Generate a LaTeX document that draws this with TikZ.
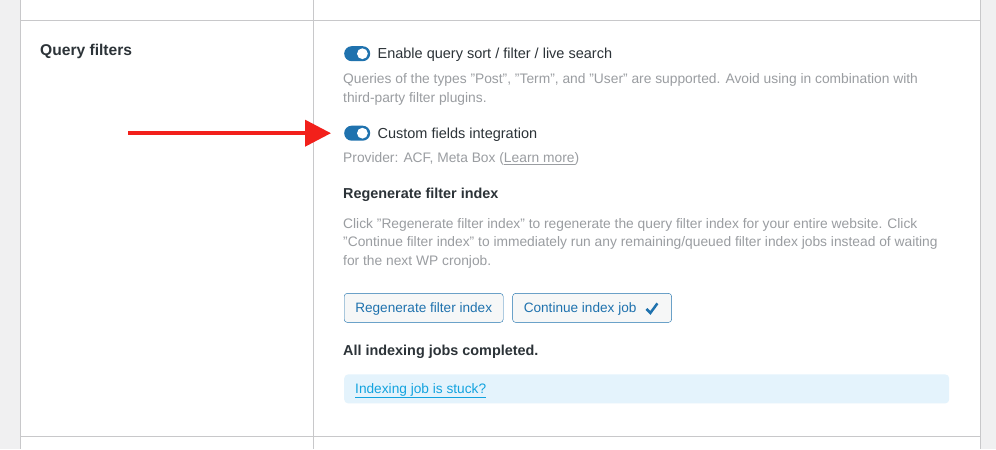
\documentclass[tikz,border=0pt]{standalone}
\usepackage{fontspec}
\setmainfont{Liberation Sans}
\usepackage{xcolor}
\usepackage{tikz}
\usetikzlibrary{positioning, arrows.meta, calc}
\definecolor{wpgrey}{HTML}{F0F0F1}
\definecolor{wpline}{HTML}{C8C8CA}
\definecolor{wptext}{HTML}{2C3338}
\definecolor{wpdesc}{HTML}{9A9DA1}
\definecolor{wpblue}{HTML}{1F72AE}
\definecolor{btnbg}{HTML}{F6F7F7}
\definecolor{infobg}{HTML}{E4F3FC}
\definecolor{linkblue}{HTML}{12A3DF}
\definecolor{arrowred}{HTML}{F2201B}
\tikzset{
  label/.style={anchor=west, inner sep=0pt, text=wptext, font=\fontsize{14.5}{16}\selectfont},
  heading/.style={label, font=\fontsize{14.4}{16}\selectfont\bfseries},
  desc/.style={anchor=north west, inner sep=0pt, text=wpdesc, align=left, font=\fontsize{13.8}{19}\selectfont},
  toggle/.style={fill=wpblue, rounded corners=7.5pt, minimum width=26pt, minimum height=15pt, inner sep=0pt, anchor=west},
  wpbutton/.style={draw=wpblue, fill=btnbg, text=wpblue, rounded corners=3pt, minimum width=159pt, minimum height=29pt, inner sep=0pt, text height=9pt, text depth=0pt, font=\fontsize{13.6}{15}\selectfont}
}
\begin{document}
\begin{tikzpicture}[x=1pt, y=-1pt]
	\fill[wpgrey] (0,0) rectangle (996,449);
	\fill[white] (20,0) rectangle (980,449);
	\draw[wpline] (20.5,0) -- (20.5,449);
	\draw[wpline] (313.5,0) -- (313.5,449);
	\draw[wpline] (980.5,0) -- (980.5,449);
	\draw[wpline] (20,20.5) -- (980,20.5);
	\draw[wpline] (20,435.5) -- (980,435.5);
	\node[heading, font=\fontsize{15.6}{17}\selectfont\bfseries] (title) at (40,51) {Query filters};
	\node[toggle] (toggleA) at (344,53.5) {};
	\fill[white] ($(toggleA.east)+(-8,0)$) circle (5.4pt);
	\node[label, right=7pt of toggleA, yshift=-1.5pt] (enable) {Enable query sort / filter / live search};
	\node[desc] (enabledesc) at (343,73) {Queries of the types "Post", "Term", and "User" are supported. Avoid using in combination with\\third-party filter plugins.};
	\node[toggle] (toggleB) at (344,133) {};
	\fill[white] ($(toggleB.east)+(-8,0)$) circle (5.4pt);
	\node[label, right=7pt of toggleB, yshift=-1.5pt] (custom) {Custom fields integration};
	\node[desc] (provider) at (343,152) {Provider: ACF, Meta Box (\underline{Learn more})};
	\node[heading] (regen) at (343,195) {Regenerate filter index};
	\node[desc, font=\fontsize{13.8}{18.5}\selectfont] (regendesc) at (343,218) {Click "Regenerate filter index" to regenerate the query filter index for your entire website. Click\\"Continue filter index" to immediately run any remaining/queued filter index jobs instead of waiting\\for the next WP cronjob.};
	\node[wpbutton, anchor=north west] (regenbtn) at (344,293) {Regenerate filter index};
	\node[wpbutton, right=9pt of regenbtn] (contbtn) {\hspace{-24pt}Continue index job};
	\draw[wpblue, line width=2.5pt] ($(contbtn.west)+(134,1)$) -- ($(contbtn.west)+(138,5)$) -- ($(contbtn.west)+(145,-4.5)$);
	\node[heading] (done) at (343,352) {All indexing jobs completed.};
	\node[fill=infobg, rounded corners=4pt, minimum width=605pt, minimum height=29pt, inner sep=0pt, anchor=north west] (info) at (344,374) {};
	\node[anchor=west, inner sep=0pt, text=linkblue, font=\fontsize{13.7}{15}\selectfont, yshift=-2pt] (stuck) at ($(info.west)+(11,0)$) {\underline{Indexing job is stuck?}};
	\coordinate (arrowtail) at (128,133);
	\draw[arrowred, line width=4pt, -{Triangle[length=26pt, width=26pt]}, shorten >=13pt] (arrowtail) -- (toggleB.west);
\end{tikzpicture}
\end{document}
